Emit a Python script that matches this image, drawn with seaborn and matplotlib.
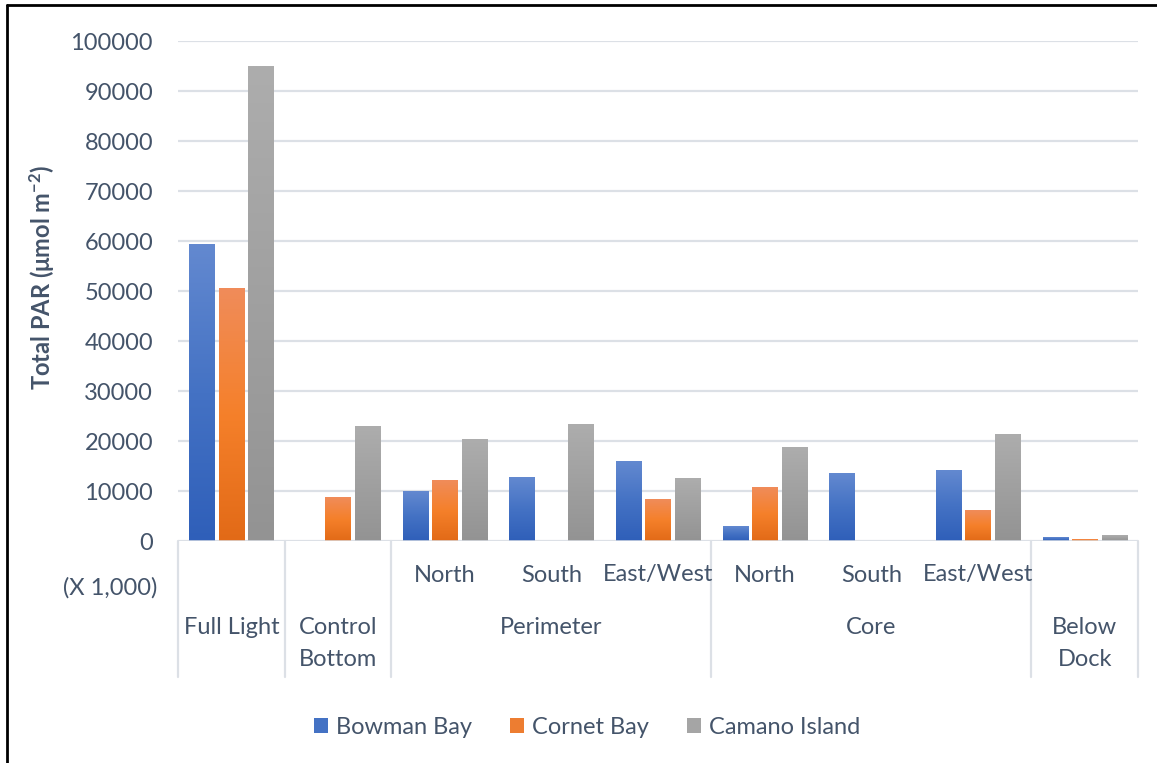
import numpy as np
import pandas as pd
import matplotlib
matplotlib.use("Agg")
import matplotlib.pyplot as plt
import seaborn as sns
from matplotlib import transforms
from matplotlib.lines import Line2D
from matplotlib.patches import Patch
from matplotlib.colors import LinearSegmentedColormap, to_rgba

# ---- data -------------------------------------------------------------
locations = ["Full Light", "Control Bottom", "Perimeter North", "Perimeter South",
             "Perimeter East/West", "Core North", "Core South", "Core East/West",
             "Below Dock"]
sites = ["Bowman Bay", "Cornet Bay", "Camano Island"]
bowman = [59400, np.nan, 9800, 12600, 15800, 3000, 13400, 14000, 800]
cornet = [50400, 8600, 12000, np.nan, 8200, 10600, np.nan, 6200, 400]
camano = [95000, 22800, 20200, 23200, 12400, 18600, np.nan, 21200, 1200]

sub_labels = ["", "", "North", "South", "East/West", "North", "South", "East/West", ""]
group_labels = ["Full Light", "Control\nBottom", "Perimeter", "Core", "Below\nDock"]
group_spans = [(0, 0), (1, 1), (2, 4), (5, 7), (8, 8)]
y_ticks = list(range(0, 100001, 10000))

# ---- style --------------------------------------------------------------
sns.set_theme(style="white")
plt.rcParams["font.family"] = ["Lato", "DejaVu Sans"]
plt.rcParams["mathtext.fontset"] = "custom"
plt.rcParams["mathtext.rm"] = "Lato"
plt.rcParams["mathtext.bf"] = "Lato:bold"
plt.rcParams["mathtext.it"] = "Lato:italic"

TEXT = "#44546A"
GRID = "#DCE0E6"
FS = 17

base = {"Bowman Bay": "#4472C4", "Cornet Bay": "#ED7D31", "Camano Island": "#A5A5A5"}
ramps = {
    "Bowman Bay": ["#2F5FB9", "#4472C4", "#6389D0"],
    "Cornet Bay": ["#E26A17", "#F5802A", "#F08C5A"],
    "Camano Island": ["#939393", "#A0A0A0", "#ADADAD"],
}

W, H = 1157, 763
fig = plt.figure(figsize=(W / 100, H / 100), dpi=100)
ax = fig.add_axes([178 / W, 1 - 541 / H, (1138 - 178) / W, 500 / H])

df = pd.DataFrame({
    "location": np.repeat(locations, len(sites)),
    "site": sites * len(locations),
    "par": np.column_stack([bowman, cornet, camano]).ravel(),
})

sns.barplot(data=df, x="location", y="par", hue="site", order=locations,
            hue_order=sites, palette=base, width=0.83, gap=0.15,
            errorbar=None, legend=False, linewidth=0, ax=ax)

# vertical gradient on every bar: dark at the base, light at the top
grad = np.linspace(0, 1, 256).reshape(-1, 1)
for patch in list(ax.patches):
    h = patch.get_height()
    if not np.isfinite(h) or h <= 0:
        continue
    fc = patch.get_facecolor()
    site = min(base, key=lambda s: np.sum(np.abs(np.array(to_rgba(base[s])) - np.array(fc))))
    cmap = LinearSegmentedColormap.from_list(site, ramps[site])
    x0 = patch.get_x()
    w = patch.get_width()
    ax.imshow(grad, cmap=cmap, extent=(x0, x0 + w, 0, h), origin="lower",
              aspect="auto", zorder=2, interpolation="bilinear")
    patch.set_alpha(0)

ax.set_xlim(-0.5, len(locations) - 0.5)
ax.set_ylim(0, 100000)
ax.set_aspect("auto")

# axes, grid, ticks
for s in ax.spines.values():
    s.set_visible(False)
ax.set_yticks(y_ticks)
ax.set_yticklabels([str(v) for v in y_ticks], color=TEXT, fontsize=FS)
ax.tick_params(axis="y", length=0, pad=18)
ax.set_xticks([])
ax.set_xlabel("")
ax.set_ylabel("")
ax.yaxis.grid(True, color=GRID, linewidth=1.6)
ax.set_axisbelow(True)
ax.axhline(0, color=GRID, linewidth=1.8, zorder=3)

# multi-level category axis
tr = transforms.blended_transform_factory(ax.transData, fig.transFigure)


def fy(py):
    return 1 - py / H


for i, lab in enumerate(sub_labels):
    if lab:
        ax.text(i, fy(575), lab, transform=tr, ha="center", va="center",
                color=TEXT, fontsize=FS, clip_on=False)

for lab, (a, b) in zip(group_labels, group_spans):
    xc = (a + b) / 2
    for k, line in enumerate(lab.split("\n")):
        ax.text(xc, fy(627 + 32 * k), line, transform=tr, ha="center",
                va="center", color=TEXT, fontsize=FS, clip_on=False)

dividers = [-0.5] + [b + 0.5 for (_, b) in group_spans]
for xd in dividers:
    ax.add_line(Line2D([xd, xd], [fy(541), fy(677)], transform=tr,
                       color=GRID, linewidth=1.6, clip_on=False))

fig.text(157 / W, fy(588), "(X 1,000)", ha="right", va="center",
         color=TEXT, fontsize=FS)

fig.text(42 / W, fy(277), r"Total PAR (μmol m$^{\mathbf{-2}}$)", rotation=90,
         ha="center", va="center", color=TEXT, fontsize=FS, fontweight="bold")

# legend
handles = [Patch(facecolor=base[s], edgecolor="none") for s in sites]
leg = fig.legend(handles, sites, loc="center", bbox_to_anchor=(587 / W, fy(727)),
                 ncol=3, frameon=False, fontsize=FS, handlelength=0.6,
                 handleheight=0.6, handletextpad=0.35, columnspacing=1.6)
for t in leg.get_texts():
    t.set_color(TEXT)

# outer frame
fig.add_artist(Line2D([7 / W, 7 / W], [0, fy(5)], transform=fig.transFigure,
                      color="black", linewidth=2))
fig.add_artist(Line2D([7 / W, 1], [fy(5), fy(5)], transform=fig.transFigure,
                      color="black", linewidth=2))

fig.savefig("out.png", dpi=100, facecolor="white")
